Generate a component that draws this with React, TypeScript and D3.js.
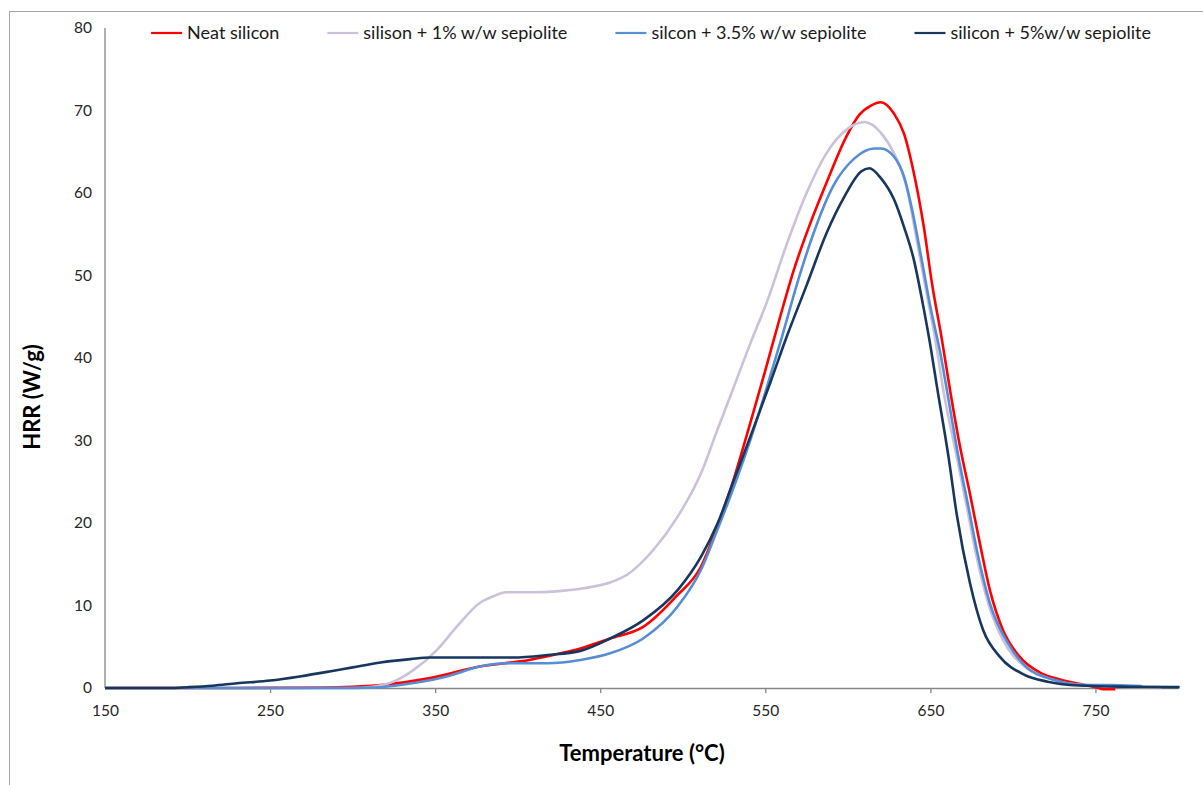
import React, { useEffect, useRef } from 'react';
import * as d3 from 'd3';

// temperatures (°C) and HRR (W/g)
const neatT = [150, 200, 280, 300, 317, 347, 377, 407, 426, 438, 456, 476, 496, 511, 521, 531, 540, 550, 559, 567, 577, 587, 599, 607, 614, 620, 628, 634, 640, 646, 651, 657, 662, 668, 674, 680, 686, 694, 704, 717, 729, 740, 750, 755, 762];
const neatV = [0, 0, 0.05, 0.15, 0.36, 1.2, 2.6, 3.4, 4.2, 4.8, 6.0, 7.4, 11.1, 14.7, 19.6, 25.4, 31.5, 38.5, 45.0, 50.5, 56.2, 61.2, 66.8, 69.5, 70.6, 71.0, 69.6, 67.2, 62.4, 55.9, 49.0, 42.2, 36.0, 29.2, 23.5, 17.5, 11.9, 7.0, 3.8, 1.8, 1.0, 0.5, 0.1, -0.15, -0.15];

const sep1T = [150, 300, 312, 325, 337, 351, 363, 377, 385, 393, 410, 428, 446, 456, 466, 482, 497, 511, 521, 530, 541, 551, 563, 575, 587, 600, 610, 620, 628, 636, 641, 647, 653, 658, 666, 672, 678, 685, 694, 707, 721, 735, 760, 790];
const sep1V = [0, 0, 0.16, 0.8, 2.2, 4.6, 7.4, 10.3, 11.1, 11.6, 11.6, 11.8, 12.3, 12.8, 13.7, 16.7, 20.8, 26.0, 31.3, 36.0, 41.8, 46.8, 53.8, 60.0, 64.8, 67.8, 68.6, 67.3, 64.8, 60.4, 55.1, 48.6, 42.2, 35.9, 28.0, 22.0, 15.9, 10.3, 5.8, 2.6, 1.2, 0.5, 0.2, 0.1];

const sep35T = [150, 300, 317, 337, 357, 377, 393, 418, 438, 456, 476, 497, 511, 521, 531, 541, 551, 560, 570, 579, 591, 604, 616, 620, 628, 634, 639, 644, 650, 656, 660, 667, 673, 679, 686, 697, 709, 725, 740, 760, 778];
const sep35V = [0, 0, 0.1, 0.6, 1.4, 2.6, 3.0, 3.0, 3.4, 4.2, 6.0, 9.9, 14.3, 19.2, 24.4, 30.1, 36.5, 42.5, 49.5, 55.0, 60.8, 64.2, 65.4, 65.4, 64.4, 62.0, 57.9, 52.7, 46.2, 40.6, 36.1, 28.0, 22.0, 15.9, 10.3, 5.4, 2.4, 1.0, 0.4, 0.35, 0.25];

const sep5T = [150, 189, 200, 215, 230, 250, 268, 286, 300, 317, 335, 347, 375, 397, 418, 438, 456, 476, 497, 511, 521, 531, 541, 553, 563, 575, 587, 598, 608, 613, 620, 628, 634, 640, 645, 650, 654, 661, 666, 674, 682, 692, 707, 721, 740, 770, 801];
const sep5V = [0, 0, 0.1, 0.28, 0.57, 0.9, 1.4, 2.0, 2.5, 3.1, 3.5, 3.7, 3.7, 3.7, 4.0, 4.5, 6.0, 8.2, 11.9, 15.9, 19.9, 25.2, 30.5, 37.0, 42.6, 48.8, 55.1, 59.6, 62.6, 63.0, 61.8, 59.2, 55.9, 51.9, 47.0, 41.5, 36.5, 28.0, 21.0, 12.7, 7.0, 3.8, 1.6, 0.77, 0.3, 0.15, 0.1];

const seriesNames = ['Neat silicon', 'silison + 1% w/w sepiolite', 'silcon + 3.5% w/w sepiolite', 'silicon + 5%w/w sepiolite'];
const xTickLabels = [150, 250, 350, 450, 550, 650, 750];
const yTickLabels = [0, 10, 20, 30, 40, 50, 60, 70, 80];
const xDomain = [150, 800];
const yDomain = [0, 80];

const colors = ['#ff0000', '#ccc1da', '#558ed5', '#17375e'];
const axisColor = '#868686';
const font = 'Lato, "Open Sans", sans-serif';

const App = () => {
  const svgRef = useRef<SVGSVGElement>(null);

  useEffect(() => {
    const svg = d3.select(svgRef.current);
    svg.selectAll('*').remove();

    const x = d3.scaleLinear().domain(xDomain).range([105, 1178]);
    const y = d3.scaleLinear().domain(yDomain).range([688, 28]);

    // chart frame (only top/left edges fall inside the picture)
    svg.append('rect')
      .attr('x', 9.5).attr('y', 11.5)
      .attr('width', 1200).attr('height', 780)
      .attr('fill', '#fff')
      .attr('stroke', '#a6a6a6');

    // y axis
    const yAxis = svg.append('g')
      .attr('transform', `translate(${x(xDomain[0])},0)`)
      .call(d3.axisLeft(y).tickValues(yTickLabels).tickSize(5).tickPadding(8).tickFormat(d3.format('d')));
    // x axis
    const xAxis = svg.append('g')
      .attr('transform', `translate(0,${y(0)})`)
      .call(d3.axisBottom(x).tickValues(xTickLabels).tickSize(5).tickPadding(12).tickSizeOuter(0));

    [xAxis, yAxis].forEach(g => {
      g.select('path.domain').attr('stroke', axisColor).attr('stroke-width', 1.3);
      g.selectAll('.tick line').attr('stroke', axisColor).attr('stroke-width', 1.3);
      g.selectAll('.tick text')
        .attr('fill', '#262626')
        .style('font-family', font)
        .style('font-size', '15.5px');
    });
    yAxis.select('path.domain').attr('d', `M0,${y(yDomain[1])}V${y(0)}`);
    yAxis.selectAll('.tick line').attr('x1', -5);
    xAxis.selectAll('.tick').filter((d: any) => d === 150).select('line').remove();

    // series
    const series = [
      { t: neatT, v: neatV },
      { t: sep1T, v: sep1V },
      { t: sep35T, v: sep35V },
      { t: sep5T, v: sep5V },
    ];
    const lineGen = d3.line<[number, number]>()
      .x(d => x(d[0]))
      .y(d => y(d[1]))
      .curve(d3.curveMonotoneX);

    series.forEach((s, i) => {
      const pts = s.t.map((t, j) => [t, s.v[j]] as [number, number]);
      svg.append('path')
        .datum(pts)
        .attr('fill', 'none')
        .attr('stroke', colors[i])
        .attr('stroke-width', 2.6)
        .attr('stroke-linejoin', 'round')
        .attr('d', lineGen);
    });

    // axis titles
    svg.append('text')
      .attr('x', 642).attr('y', 761)
      .attr('text-anchor', 'middle')
      .style('font-family', font).style('font-weight', 700).style('font-size', '22px')
      .attr('fill', '#000')
      .text('Temperature (°C)');
    svg.append('text')
      .attr('transform', 'translate(40,397) rotate(-90)')
      .attr('text-anchor', 'middle')
      .style('font-family', font).style('font-weight', 700).style('font-size', '22px')
      .attr('fill', '#000')
      .text('HRR (W/g)');

    // legend
    const legend = svg.append('g');
    let cx = 0;
    seriesNames.forEach((name, i) => {
      legend.append('line')
        .attr('x1', cx).attr('x2', cx + 31)
        .attr('y1', 0).attr('y2', 0)
        .attr('stroke', colors[i]).attr('stroke-width', 2.2);
      const txt = legend.append('text')
        .attr('x', cx + 36).attr('y', 6)
        .style('font-family', font).style('font-size', '18px')
        .attr('fill', '#1a1a1a')
        .text(name);
      const w = (txt.node() as SVGTextElement).getComputedTextLength();
      cx += 36 + w + 48;
    });
    const total = cx - 48;
    legend.attr('transform', `translate(${651 - total / 2},33)`);
  }, []);

  return (
    <svg
      ref={svgRef}
      width={1203}
      height={785}
      style={{ position: 'absolute', left: 0, top: 0, background: '#fff' }}
    />
  );
};

export default App;
